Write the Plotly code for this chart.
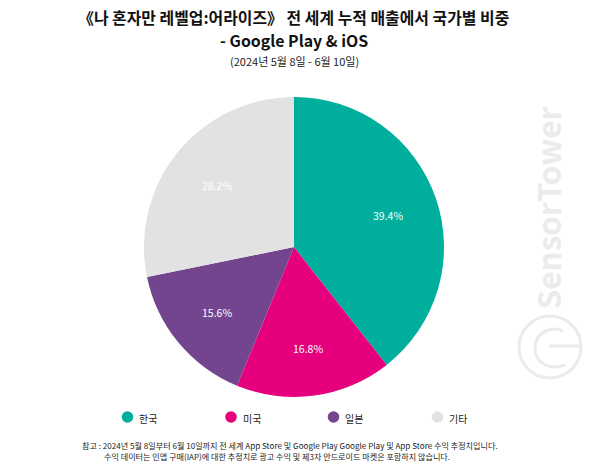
import plotly.graph_objects as go

countries = ['한국', '미국', '일본', '기타']
shares = [39.4, 16.8, 15.6, 28.2]
colors = ['#00AE9E', '#E6007E', '#74458F', '#E2E2E2']

title_lines = ['《나 혼자만 레벨업:어라이즈》 전 세계 누적 매출에서 국가별 비중', '- Google Play & iOS']
subtitle = '(2024년 5월 8일 - 6월 10일)'
note_1 = '참고 : 2024년 5월 8일부터 6월 10일까지 전 세계 App Store 및 Google Play Google Play 및 App Store 수익 추정치입니다.'
note_2 = '수익 데이터는 인앱 구매(IAP)에 대한 추정치로 광고 수익 및 제3자 안드로이드 마켓은 포함하지 않습니다.'

W, H = 600, 464
FONT = 'Noto Sans CJK KR'
WATERMARK = '#EBEBEB'
legend_x = [127.5, 231, 333.5, 437.5]
# plotly's inside labels sit too close to the centre, so they are placed by hand
label_x = [388, 308, 217, 216.5]
label_y = [215, 348, 312, 185]


def px(x):
    return x / W


def py(y):
    return 1 - y / H


fig = go.Figure()

fig.add_trace(go.Pie(
    labels=countries,
    values=shares,
    sort=False,
    direction='clockwise',
    rotation=0,
    marker=dict(colors=colors, line=dict(width=0)),
    textinfo='none',
    showlegend=False,
    domain=dict(x=[px(144), px(444)], y=[py(397), py(97)]),
))


def add_text(text, x, y, size, anchor='center', color='#222222', angle=0):
    fig.add_annotation(
        text=text, x=px(x), y=py(y), xref='paper', yref='paper',
        xanchor=anchor, yanchor='middle', showarrow=False, textangle=angle,
        font=dict(size=size, color=color, family=FONT),
    )


add_text('<b>%s</b>' % title_lines[0], 293.5, 17, 15.9, color='#111111')
add_text('<b>%s</b>' % title_lines[1], 294, 40.5, 15.9, color='#111111')
add_text(subtitle, 294, 61.5, 11)
add_text(note_1, 80, 445, 8.1, anchor='left')
add_text(note_2, 102, 456, 8.1, anchor='left')

for share, lx, ly in zip(shares, label_x, label_y):
    add_text('%.1f%%' % share, lx, ly, 10.5, color='white')

# legend by hand, the dots sit closer to the labels than plotly's legend allows
for name, color, lx in zip(countries, colors, legend_x):
    fig.add_shape(type='circle', xref='paper', yref='paper',
                  x0=px(lx - 5.8), x1=px(lx + 5.8), y0=py(422.8), y1=py(411.2),
                  fillcolor=color, line=dict(width=0))
    add_text(name, lx + 9.5, 418, 10, anchor='left')

# watermark
add_text('<b>SensorTower</b>', 546.5, 208, 31.5, color=WATERMARK, angle=-90)
fig.add_shape(type='circle', xref='paper', yref='paper',
              x0=px(519), x1=px(581), y0=py(378), y1=py(316),
              line=dict(color=WATERMARK, width=3))
fig.add_shape(type='path', xref='paper', yref='paper',
              path='M %f %f C %f %f, %f %f, %f %f C %f %f, %f %f, %f %f' % (
                  px(563), py(331), px(548), py(325), px(535), py(335), px(535), py(348),
                  px(535), py(362), px(548), py(371), px(565), py(365)),
              line=dict(color=WATERMARK, width=3))
fig.add_shape(type='line', xref='paper', yref='paper',
              x0=px(549), x1=px(580), y0=py(346), y1=py(346),
              line=dict(color=WATERMARK, width=3))

fig.update_layout(
    width=W, height=H,
    margin=dict(l=0, r=0, t=0, b=0),
    paper_bgcolor='white', plot_bgcolor='white',
    font=dict(family=FONT),
    xaxis=dict(visible=False),
    yaxis=dict(visible=False),
)

# the page body's default margin would push the figure 8px down and right
fig.write_html('out.html', config={'displayModeBar': False},
               post_script="document.body.style.margin = '0';")
